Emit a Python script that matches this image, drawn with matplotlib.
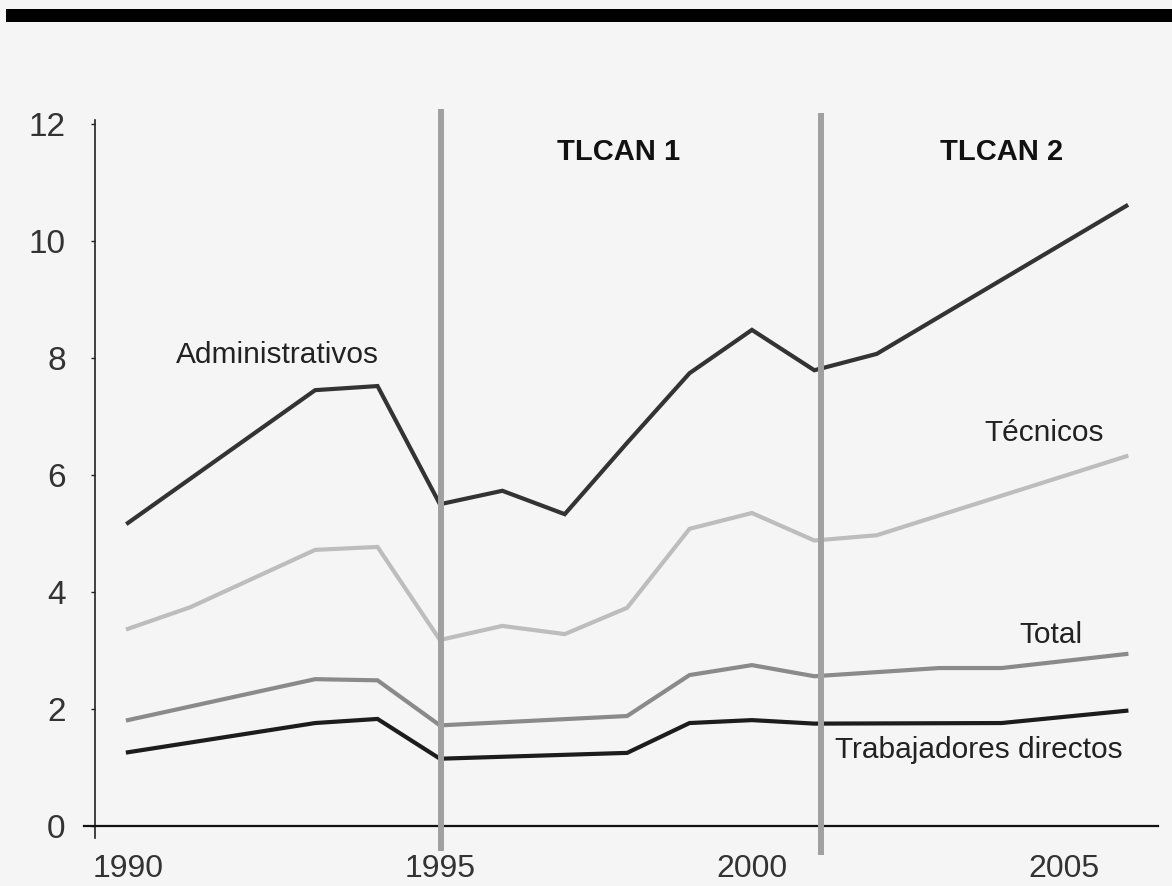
import matplotlib
matplotlib.use('Agg')
from matplotlib import pyplot as plt
from matplotlib.patches import Rectangle

# data (years, value)
admin_years = [1990, 1993, 1994, 1995, 1996, 1997, 1998, 1999, 2000, 2001, 2002, 2006]
admin_vals = [5.18, 7.45, 7.52, 5.5, 5.73, 5.33, 6.55, 7.74, 8.48, 7.79, 8.07, 10.6]

tecnicos_years = [1990, 1991, 1993, 1994, 1995, 1996, 1997, 1998, 1999, 2000, 2001, 2002, 2006]
tecnicos_vals = [3.37, 3.74, 4.72, 4.77, 3.18, 3.42, 3.28, 3.73, 5.08, 5.35, 4.88, 4.97, 6.32]

total_years = [1990, 1993, 1994, 1995, 1998, 1999, 2000, 2001, 2003, 2004, 2006]
total_vals = [1.81, 2.51, 2.49, 1.72, 1.88, 2.58, 2.75, 2.56, 2.7, 2.7, 2.94]

trab_years = [1990, 1993, 1994, 1995, 1998, 1999, 2000, 2001, 2004, 2006]
trab_vals = [1.26, 1.76, 1.83, 1.15, 1.25, 1.76, 1.81, 1.75, 1.76, 1.97]

tlcan_breaks = [1995.02, 2001.1]
tlcan_labels = ['TLCAN 1', 'TLCAN 2']
x_ticks = [1990, 1995, 2000, 2005]
y_ticks = [0, 2, 4, 6, 8, 10, 12]

bg = '#f5f5f5'
plt.rcParams['font.family'] = ['Liberation Sans', 'DejaVu Sans']

fig = plt.figure(figsize=(11.72, 8.86), dpi=100, facecolor=bg)
ax = fig.add_axes([0.0719, 0.0281, 0.9264, 0.8584])
ax.set_facecolor(bg)

# black band across the top
fig.patches.append(Rectangle((0.005, 0.9752), 0.995, 0.0147, transform=fig.transFigure,
							 facecolor='black', edgecolor='none'))

lw = 3.0
ax.plot(trab_years, trab_vals, color='#1c1c1c', lw=lw, solid_joinstyle='miter', zorder=3)
ax.plot(total_years, total_vals, color='#8a8a8a', lw=lw, solid_joinstyle='miter', zorder=3)
ax.plot(tecnicos_years, tecnicos_vals, color='#bdbdbd', lw=lw, solid_joinstyle='miter', zorder=3)
ax.plot(admin_years, admin_vals, color='#333333', lw=lw, solid_joinstyle='miter', zorder=3)

# TLCAN period markers
ax.vlines(tlcan_breaks[0], -0.43, 12.26, color='#a0a0a0', lw=4.3, zorder=4)
ax.vlines(tlcan_breaks[1], -0.5, 12.19, color='#a0a0a0', lw=4.3, zorder=4)

ax.set_xlim(1989.3, 2006.7)
ax.set_ylim(-0.6, 12.4)

for s in ['top', 'right']:
	ax.spines[s].set_visible(False)
ax.spines['left'].set_position(('data', 1989.47))
ax.spines['left'].set_bounds(-0.2, 12.07)
ax.spines['left'].set_linewidth(1.2)
ax.spines['left'].set_color('#222222')
ax.spines['bottom'].set_position(('data', 0))
ax.spines['bottom'].set_bounds(1989.3, 2006.5)
ax.spines['bottom'].set_linewidth(1.6)
ax.spines['bottom'].set_color('#111111')

ax.set_xticks(x_ticks)
ax.set_yticks(y_ticks)
ax.tick_params(axis='x', length=0, pad=20, labelsize=23, labelcolor='#333333')
ax.tick_params(axis='y', length=3, width=1, color='#222222', pad=18, labelsize=24, labelcolor='#333333')

txt = dict(fontsize=21.5, color='#222222', ha='center', va='center', zorder=5)
ax.text(1992.4, 8.05, 'Administrativos', **txt)
ax.text(2004.68, 6.72, 'Técnicos', **txt)
ax.text(2004.79, 3.26, 'Total', **txt)
ax.text(2003.64, 1.30, 'Trabajadores directos', **txt)

ax.text(1997.87, 11.52, tlcan_labels[0], fontsize=21, fontweight='bold', color='#111111',
		ha='center', va='center')
ax.text(2004.0, 11.52, tlcan_labels[1], fontsize=21, fontweight='bold', color='#111111',
		ha='center', va='center')

plt.savefig('out.png', dpi=100, facecolor=bg)
